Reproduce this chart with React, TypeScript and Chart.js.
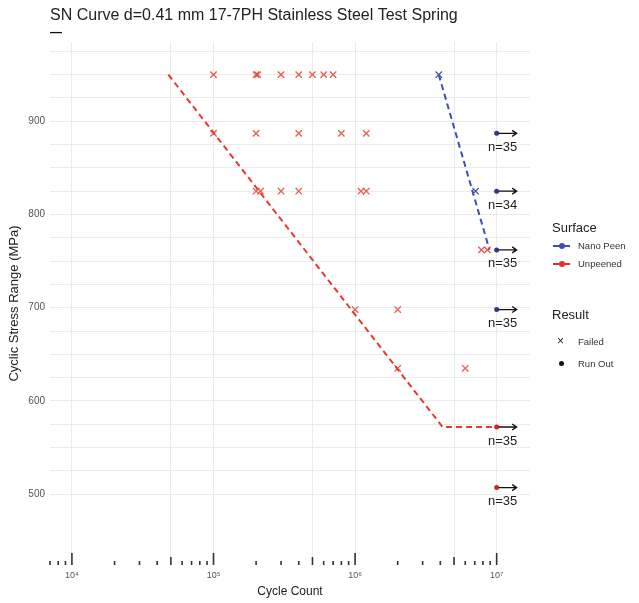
import React, { useEffect, useRef } from "react";
import { Chart, registerables } from "chart.js";
Chart.register(...registerables);

const FONT = "'Liberation Sans', Arial, Helvetica, sans-serif";

const titleText = "SN Curve d=0.41 mm 17-7PH Stainless Steel Test Spring";
const xTitle = "Cycle Count";
const yTitle = "Cyclic Stress Range (MPa)";

const xGridValues = [1e4, 5e4, 1e5, 5e5, 1e6, 5e6, 1e7];
const yGridValues = [500, 525, 550, 575, 600, 625, 650, 675, 700, 725, 750, 775, 800, 825, 850, 875, 900, 925, 950, 975];
const decades = [3, 4, 5, 6, 7];
const mantissas = [1, 2, 3, 4, 5, 6, 7, 8, 9];

const unpeenedFailedCycles = [
  1.0e5, 2.0e5, 2.05e5, 3.0e5, 4.0e5, 5.0e5, 6.0e5, 7.0e5,
  1.0e5, 2.0e5, 4.0e5, 8.0e5, 1.2e6,
  2.0e5, 2.15e5, 3.0e5, 4.0e5, 1.1e6, 1.2e6,
  7.8e6, 8.6e6,
  1.0e6, 2.0e6,
  2.0e6, 6.0e6,
];
const unpeenedFailedStress = [
  950, 950, 950, 950, 950, 950, 950, 950,
  887, 887, 887, 887, 887,
  825, 825, 825, 825, 825, 825,
  762, 762,
  698, 698,
  635, 635,
];

const nanoFailedCycles = [3.9e6, 7.1e6];
const nanoFailedStress = [950, 825];

const nanoRunOutCycles = [1e7, 1e7, 1e7, 1e7];
const nanoRunOutStress = [887, 825, 762, 698];
const nanoRunOutCounts = [35, 34, 35, 35];

const unpeenedRunOutCycles = [1e7, 1e7];
const unpeenedRunOutStress = [572, 507];
const unpeenedRunOutCounts = [35, 35];

const unpeenedFitCycles = [4.8e4, 4.15e6, 1.0e7];
const unpeenedFitStress = [950, 572, 572];

const nanoFitCycles = [3.9e6, 8.9e6];
const nanoFitStress = [950, 762];

const RED_X = "rgba(232,64,52,0.85)";
const RED_LINE = "#E8392E";
const RED_DOT = "#CC2A22";
const BLUE_X = "#4A5AAA";
const BLUE_LINE = "#3D4FAE";
const BLUE_DOT = "#2B3A8A";

const sup: Record<string, string> = { "3": "\u00b3", "4": "\u2074", "5": "\u2075", "6": "\u2076", "7": "\u2077" };

const pts = (xs: number[], ys: number[]) => xs.map((x, i) => ({ x, y: ys[i] }));

const decorPlugin = {
  id: "decor",
  afterDatasetsDraw(chart: any) {
    const ctx = chart.ctx;
    const xs = chart.scales.x;
    const area = chart.chartArea;
    ctx.save();
    ctx.strokeStyle = "#333";
    ctx.lineWidth = 1.6;
    for (const d of decades) {
      for (const m of mantissas) {
        const v = m * Math.pow(10, d);
        if (v < xs.min - 1 || v > xs.max) continue;
        const px = xs.getPixelForValue(v);
        const len = m === 1 ? 12 : m === 5 ? 8 : 4;
        ctx.beginPath();
        ctx.moveTo(px, area.bottom);
        ctx.lineTo(px, area.bottom - len);
        ctx.stroke();
      }
    }
    const groups = [
      { idx: 4, counts: nanoRunOutCounts },
      { idx: 5, counts: unpeenedRunOutCounts },
    ];
    ctx.font = `13px ${FONT}`;
    ctx.textAlign = "center";
    ctx.textBaseline = "middle";
    for (const g of groups) {
      const meta = chart.getDatasetMeta(g.idx);
      meta.data.forEach((el: any, i: number) => {
        const x = el.x;
        const y = el.y;
        ctx.strokeStyle = "#111";
        ctx.lineWidth = 1.3;
        ctx.beginPath();
        ctx.moveTo(x + 2, y);
        ctx.lineTo(x + 20, y);
        ctx.moveTo(x + 15.5, y - 3);
        ctx.lineTo(x + 20, y);
        ctx.lineTo(x + 15.5, y + 3);
        ctx.stroke();
        ctx.fillStyle = "#222";
        ctx.fillText(`n=${g.counts[i]}`, x + 6, y + 14);
      });
    }
    ctx.restore();
  },
};

export default function App() {
  const ref = useRef<HTMLCanvasElement | null>(null);
  useEffect(() => {
    document.body.style.margin = "0";
    if (!ref.current) return;
    const chart = new Chart(ref.current, {
      type: "scatter",
      data: {
        datasets: [
          {
            label: "Unpeened Failed",
            data: pts(unpeenedFailedCycles, unpeenedFailedStress),
            pointStyle: "crossRot",
            pointRadius: 4.5,
            borderColor: RED_X,
            backgroundColor: RED_X,
            borderWidth: 1.3,
            order: 2,
          },
          {
            label: "Nano Peen Failed",
            data: pts(nanoFailedCycles, nanoFailedStress),
            pointStyle: "crossRot",
            pointRadius: 4.5,
            borderColor: BLUE_X,
            backgroundColor: BLUE_X,
            borderWidth: 1.3,
            order: 2,
          },
          {
            label: "Unpeened Fit",
            type: "line",
            data: pts(unpeenedFitCycles, unpeenedFitStress),
            showLine: true,
            pointRadius: 0,
            borderColor: RED_LINE,
            borderWidth: 2,
            borderDash: [6, 4],
            fill: false,
            order: 5,
          },
          {
            label: "Nano Peen Fit",
            type: "line",
            data: pts(nanoFitCycles, nanoFitStress),
            showLine: true,
            pointRadius: 0,
            borderColor: BLUE_LINE,
            borderWidth: 2,
            borderDash: [6, 4],
            fill: false,
            order: 5,
          },
          {
            label: "Nano Peen Run Out",
            data: pts(nanoRunOutCycles, nanoRunOutStress),
            pointStyle: "circle",
            pointRadius: 2.5,
            borderWidth: 0,
            backgroundColor: BLUE_DOT,
            borderColor: BLUE_DOT,
            order: 1,
          },
          {
            label: "Unpeened Run Out",
            data: pts(unpeenedRunOutCycles, unpeenedRunOutStress),
            pointStyle: "circle",
            pointRadius: 2.5,
            borderWidth: 0,
            backgroundColor: RED_DOT,
            borderColor: RED_DOT,
            order: 1,
          },
        ],
      },
      options: {
        responsive: false,
        animation: false,
        layout: { padding: { left: 0, right: 109, top: 0, bottom: 0 } },
        plugins: {
          legend: { display: false },
          tooltip: { enabled: false },
          title: {
            display: true,
            text: titleText,
            align: "start",
            fullSize: false,
            color: "#222",
            font: { family: FONT, size: 16, weight: "normal" },
            padding: { top: 6, bottom: 0 },
          },
          subtitle: {
            display: true,
            text: "\u2014",
            align: "start",
            fullSize: false,
            color: "#111",
            font: { family: FONT, size: 12, weight: "bold" },
            padding: { top: 0, bottom: 2.4 },
          },
        },
        scales: {
          x: {
            type: "logarithmic",
            min: 7000,
            max: 1.72e7,
            afterBuildTicks: (s: any) => {
              s.ticks = xGridValues.map((v) => ({ value: v }));
            },
            afterFit: (s: any) => {
              s.height = 38;
            },
            grid: { color: "#ebebeb", lineWidth: 1, drawTicks: false },
            border: { display: false },
            ticks: {
              autoSkip: false,
              maxRotation: 0,
              padding: 5,
              color: "#555",
              font: { family: FONT, size: 9 },
              callback: (v: any) => {
                const e = Math.log10(Number(v));
                if (Math.abs(e - Math.round(e)) < 1e-9) return "10" + (sup[String(Math.round(e))] || "");
                return "";
              },
            },
            title: {
              display: true,
              text: xTitle,
              color: "#222",
              font: { family: FONT, size: 12 },
              padding: { top: 0, bottom: 4 },
            },
          },
          y: {
            type: "linear",
            min: 424,
            max: 985,
            afterBuildTicks: (s: any) => {
              s.ticks = yGridValues.map((v) => ({ value: v }));
            },
            afterFit: (s: any) => {
              s.width = 50;
            },
            grid: { color: "#ebebeb", lineWidth: 1, drawTicks: false },
            border: { display: false },
            ticks: {
              autoSkip: false,
              padding: 5,
              color: "#555",
              font: { family: FONT, size: 10 },
              callback: (v: any) => (Number(v) % 100 === 0 ? String(v) : ""),
            },
            title: {
              display: true,
              text: yTitle,
              color: "#222",
              font: { family: FONT, size: 13 },
              padding: { top: 7, bottom: 0 },
            },
          },
        },
      },
      plugins: [decorPlugin],
    } as any);
    return () => chart.destroy();
  }, []);

  const legendText: React.CSSProperties = { position: "absolute", fontFamily: FONT, color: "#333", fontSize: 9.5, lineHeight: "12px", whiteSpace: "nowrap" };
  const legendTitle: React.CSSProperties = { position: "absolute", fontFamily: FONT, color: "#222", fontSize: 13, lineHeight: "16px", whiteSpace: "nowrap" };

  const lineKey = (top: number, color: string) => (
    <>
      <div style={{ position: "absolute", left: 553, top: top - 1, width: 17, height: 2, background: color }} />
      <div style={{ position: "absolute", left: 558.5, top: top - 3, width: 6, height: 6, borderRadius: 3, background: color }} />
    </>
  );

  return (
    <div style={{ position: "relative", width: 639, height: 603, background: "#fff" }}>
      <canvas ref={ref} width={639} height={603} style={{ position: "absolute", left: 0, top: 0 }} />
      <div style={{ ...legendTitle, left: 552, top: 220 }}>Surface</div>
      {lineKey(246, "#4050B0")}
      <div style={{ ...legendText, left: 578, top: 240 }}>Nano Peen</div>
      {lineKey(264, "#E8302A")}
      <div style={{ ...legendText, left: 578, top: 258 }}>Unpeened</div>
      <div style={{ ...legendTitle, left: 552, top: 307 }}>Result</div>
      <div style={{ ...legendText, left: 557, top: 335, fontSize: 12, color: "#222" }}>{"\u00d7"}</div>
      <div style={{ ...legendText, left: 578, top: 336 }}>Failed</div>
      <div style={{ position: "absolute", left: 559, top: 361, width: 5, height: 5, borderRadius: 3, background: "#111" }} />
      <div style={{ ...legendText, left: 578, top: 358 }}>Run Out</div>
    </div>
  );
}
